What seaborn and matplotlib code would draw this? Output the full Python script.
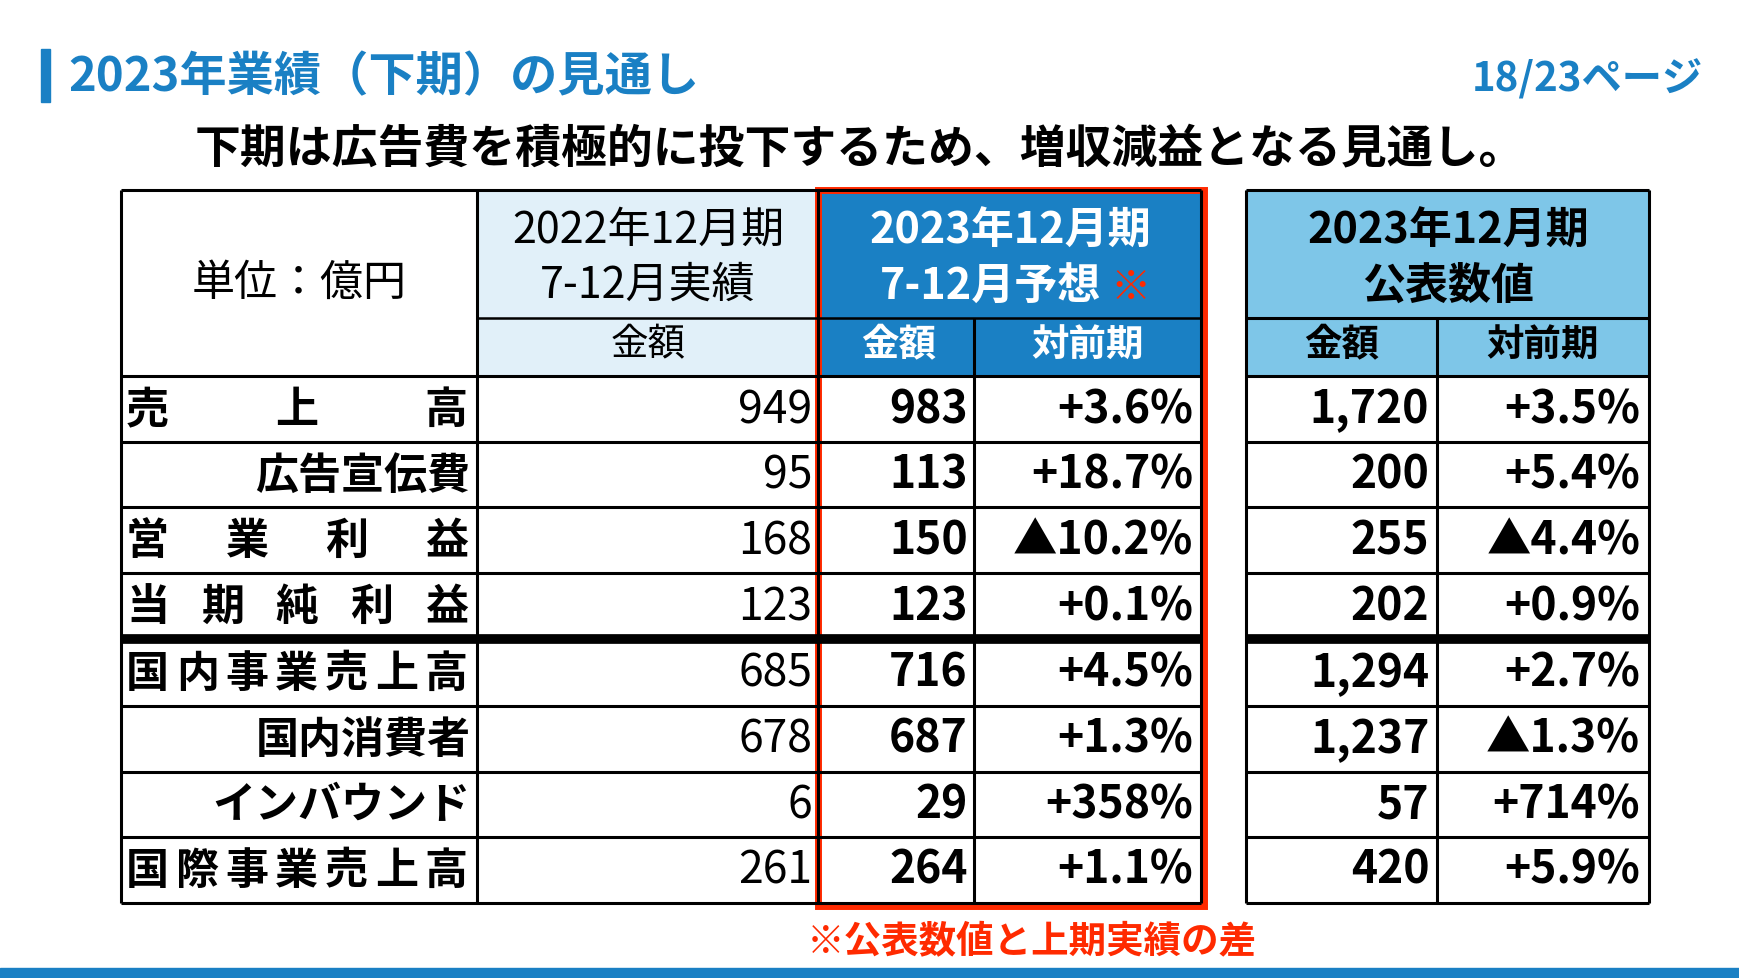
import matplotlib
matplotlib.use("Agg")
import matplotlib.pyplot as plt
from matplotlib.patches import Rectangle
import seaborn as sns

sns.set_theme(style="white", font="Noto Sans CJK JP")
FONT = "Noto Sans CJK JP"

title = "2023年業績（下期）の見通し"
page = "18/23ページ"
subtitle = "下期は広告費を積極的に投下するため、増収減益となる見通し。"
footnote = "※公表数値と上期実績の差"
row_labels = ["売上高", "広告宣伝費", "営業利益", "当期純利益", "国内事業売上高", "国内消費者", "インバウンド", "国際事業売上高"]
label_style = ["spread", "right", "spread", "spread", "spread", "right", "right", "spread"]
h2022 = ["949", "95", "168", "123", "685", "678", "6", "261"]
f2023_amt = ["983", "113", "150", "123", "716", "687", "29", "264"]
f2023_yoy = ["+3.6%", "+18.7%", "▲10.2%", "+0.1%", "+4.5%", "+1.3%", "+358%", "+1.1%"]
p2023_amt = ["1,720", "200", "255", "202", "1,294", "1,237", "57", "420"]
p2023_yoy = ["+3.5%", "+5.4%", "▲4.4%", "+0.9%", "+2.7%", "▲1.3%", "+714%", "+5.9%"]

BLUE = "#1a80c4"
LIGHT = "#e1f0f9"
MID = "#7ec6e8"
RED = "#ff2a00"

fig = plt.figure(figsize=(17.4, 9.79), dpi=100)
ax = fig.add_axes([0, 0, 1, 1])
ax.set_xlim(0, 1568); ax.set_ylim(882, 0); ax.axis("off")

def T(x, y, s, size=33, color="black", ha="center", weight="bold"):
    ax.text(x, y, s, fontsize=size, color=color, ha=ha, va="center", fontfamily=FONT, fontweight=weight)

# title area
ax.add_patch(Rectangle((37, 45), 8, 48, color=BLUE))
T(62, 70, title, size=34, color=BLUE, ha="left")
T(1535, 72, page, size=29, color=BLUE, ha="right")
T(775, 135, subtitle, size=33)
ax.add_patch(Rectangle((0, 873), 1568, 9, color=BLUE))

xl = [109, 430, 737, 878, 1082]
y_head = 172; y_sub = 287; y0 = 340
rh = [59, 59, 59, 60, 60, 59, 59, 59]
ys = [y0]
for h in rh:
    ys.append(ys[-1] + h)

ax.add_patch(Rectangle((430, y_head), 307, y0 - y_head, color=LIGHT))
ax.add_patch(Rectangle((737, y_head), 345, y0 - y_head, color=BLUE))
ax.add_patch(Rectangle((1123, y_head), 363, y0 - y_head, color=MID))

lw = 2.2
def line(x1, x2, y1, y2, w=lw, c="black"):
    ax.plot([x1, x2], [y1, y2], color=c, lw=w, solid_capstyle="butt")

line(109, 1082, y_head, y_head)
line(430, 1082, y_sub, y_sub, w=1.8)
for i, y in enumerate(ys):
    line(109, 1082, y, y, w=7 if i == 4 else lw)
    line(1123, 1486, y, y, w=7 if i == 4 else lw)
line(109, 109, y_head, ys[-1]); line(430, 430, y_head, ys[-1])
line(737, 737, y_head, ys[-1]); line(878, 878, y_sub, ys[-1])
line(1082, 1082, y_head, ys[-1])
line(1123, 1486, y_head, y_head); line(1123, 1486, y_sub, y_sub)
line(1123, 1123, y_head, ys[-1]); line(1295, 1295, y_sub, ys[-1]); line(1486, 1486, y_head, ys[-1])

T(270, 256, "単位：億円", size=31, weight="normal")
T(584, 208, "2022年12月期", size=31, weight="normal")
T(584, 257, "7-12月実績", size=31, weight="normal")
T(584, 311, "金額", size=27, weight="normal")
T(910, 208, "2023年12月期", size=31, color="white")
T(893, 258, "7-12月予想", size=31, color="white")
T(1019, 260, "※", size=29, color=RED)
T(810, 311, "金額", size=27, color="white")
T(980, 311, "対前期", size=27, color="white")
T(1305, 208, "2023年12月期", size=31)
T(1305, 257, "公表数値", size=31)
T(1209, 311, "金額", size=27)
T(1390, 311, "対前期", size=27)

for i, lab in enumerate(row_labels):
    yc = (ys[i] + ys[i + 1]) / 2
    if label_style[i] == "right":
        T(424, yc, lab, size=31, ha="right")
    else:
        n = len(lab); x1, x2 = 133, 402
        for k, ch in enumerate(lab):
            T(x1 + (x2 - x1) * k / (n - 1), yc, ch, size=31)
    T(732, yc, h2022[i], size=32, ha="right", weight="normal")
    T(872, yc, f2023_amt[i], size=32, ha="right")
    T(1075, yc, f2023_yoy[i], size=32, ha="right")
    T(1288, yc, p2023_amt[i], size=32, ha="right")
    T(1478, yc, p2023_yoy[i], size=32, ha="right")

ax.add_patch(Rectangle((737, 172), 348, 645, fill=False, ec=RED, lw=5))
T(930, 848, footnote, size=27, color=RED)

fig.savefig("out.png", dpi=100)
